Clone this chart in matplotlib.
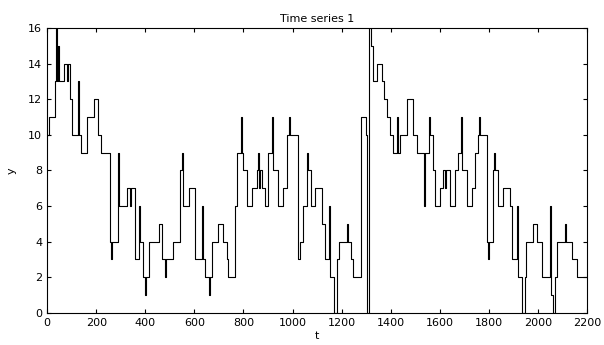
import numpy as np
import matplotlib.pyplot as plt

# pontos de mudanca da serie (t inicial de cada degrau, valor)
t_steps = [0, 8, 33, 37, 41, 45, 49, 69, 81, 86, 94, 102, 126, 130, 139, 163, 191,
           208, 220, 257, 261, 265, 289, 293, 326, 338, 342, 359, 375, 379, 391,
           399, 403, 416, 456, 468, 481, 485, 513, 542, 550, 554, 579, 603, 631,
           636, 644, 660, 664, 672, 697, 717, 733, 737, 766, 774, 790, 794, 799,
           815, 835, 856, 860, 864, 868, 876, 888, 900, 917, 921, 941, 961, 978,
           986, 990, 1023, 1031, 1043, 1059, 1063, 1076, 1092, 1120, 1133, 1149,
           1153, 1169, 1181, 1190, 1222, 1226, 1238, 1247, 1279, 1300, 1304, 1312,
           1320, 1328, 1344, 1365, 1373, 1385, 1397, 1410, 1426, 1430, 1438, 1467,
           1491, 1507, 1536, 1540, 1556, 1560, 1573, 1581, 1601, 1613, 1621, 1626,
           1642, 1662, 1674, 1687, 1691, 1711, 1731, 1744, 1756, 1760, 1764, 1793,
           1797, 1801, 1817, 1821, 1825, 1837, 1858, 1886, 1894, 1915, 1919, 1935,
           1947, 1951, 1980, 1996, 2017, 2049, 2053, 2061, 2070, 2078, 2110, 2114,
           2139, 2159, 2200]
y_steps = [10, 11, 13, 16, 13, 15, 13, 14, 13, 14, 12, 10, 13, 10, 9, 11, 12,
           10, 9, 4, 3, 4, 9, 6, 7, 6, 7, 3, 6, 4, 2,
           1, 2, 4, 5, 3, 2, 3, 4, 8, 9, 6, 7, 3, 6,
           3, 2, 1, 2, 4, 5, 4, 3, 2, 6, 9, 11, 9, 8,
           6, 7, 8, 9, 7, 8, 7, 6, 9, 11, 8, 6, 7, 10,
           11, 10, 3, 4, 6, 9, 8, 6, 7, 5, 3, 6,
           2, 0, 3, 4, 5, 4, 3, 2, 11, 10, 0, 16,
           15, 13, 14, 13, 12, 11, 10, 9, 11, 9, 10, 12,
           10, 9, 6, 9, 11, 10, 8, 6, 7, 8, 7, 8,
           6, 8, 9, 11, 8, 6, 7, 9, 10, 11, 10, 4,
           3, 4, 8, 9, 8, 6, 7, 6, 3, 6, 2, 0,
           2, 4, 5, 4, 2, 6, 1, 0, 2, 4, 5, 4,
           3, 2, 2]

xticks = np.arange(0, 2201, 200)
yticks = np.arange(0, 17, 2)

fig = plt.figure(figsize=(6.04, 3.45), dpi=100)
ax = fig.add_axes([0.078, 0.093, 0.894, 0.826])
ax.step(t_steps, y_steps, where='post', color='black', linewidth=0.8)

ax.set_xlim(0, 2200)
ax.set_ylim(0, 16)
ax.set_xticks(xticks)
ax.set_yticks(yticks)
ax.tick_params(direction='in', top=True, right=True, labelsize=8, length=3)
ax.set_title('Time series 1', fontsize=8, pad=4)
ax.set_xlabel('t', fontsize=8, labelpad=2)
ax.set_ylabel('y', fontsize=8, labelpad=8)

plt.savefig('out.png', dpi=100)
